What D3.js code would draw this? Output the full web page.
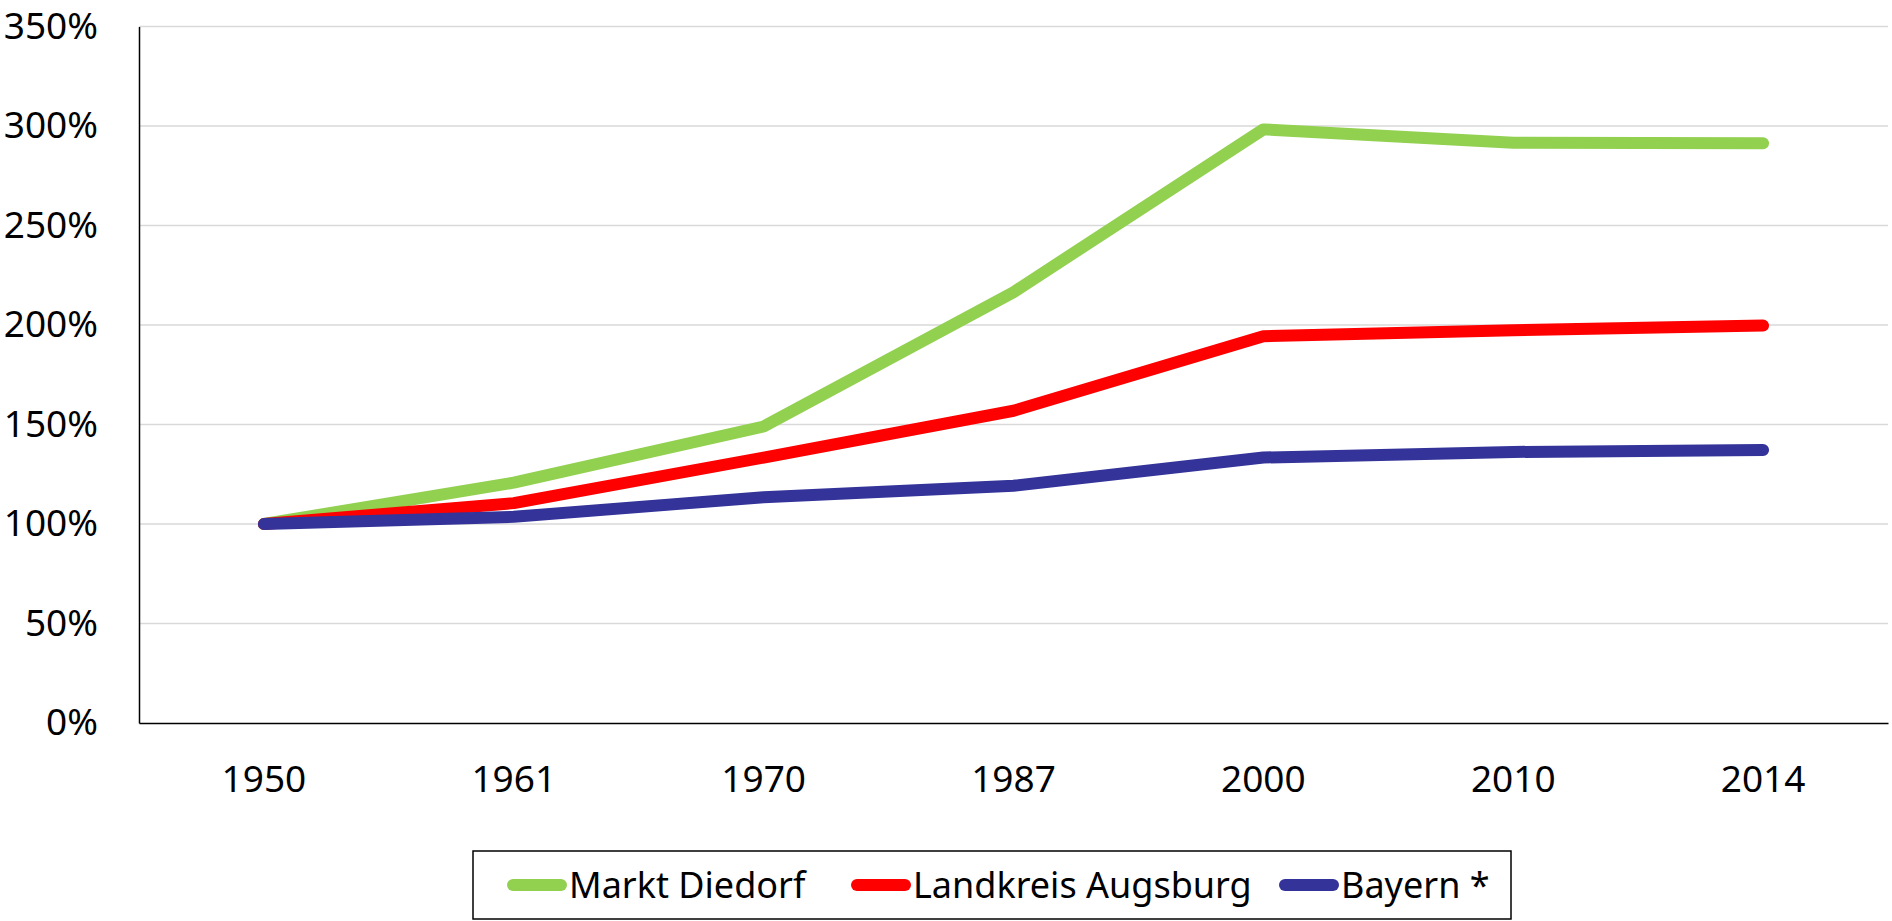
<!DOCTYPE html>
<html>
<head>
<meta charset="utf-8">
<script src="https://cdn.jsdelivr.net/npm/d3@7"></script>
<style>
  html, body { margin: 0; padding: 0; background: #fff; }
  svg { display: block; font-family: "Noto Sans", sans-serif; }
</style>
</head>
<body>
<div id="chart"></div>
<script>
// values (index 1950 = 100%)
const years = ["1950", "1961", "1970", "1987", "2000", "2010", "2014"];
const diedorf = [100, 120.8, 149, 216.5, 298.3, 291.6, 291.3];
const landkreis = [100, 110.5, 133.4, 156.9, 194.4, 197.4, 199.7];
const bayern = [100, 103.6, 113.5, 119.2, 133.4, 136.2, 137.2];
const yTicks = [0, 50, 100, 150, 200, 250, 300, 350];

const seriesNames = ["Markt Diedorf", "Landkreis Augsburg", "Bayern *"];
const seriesColors = ["#92D050", "#FF0000", "#333399"];

const series = [diedorf, landkreis, bayern].map((vals, i) => ({
    name: seriesNames[i],
    color: seriesColors[i],
    values: vals.map((v, j) => ({year: years[j], value: v}))
}));

const width = 1892;
const height = 921;
const plot = {left: 139, right: 1888, top: 26.5, bottom: 723};

const svg = d3.select("#chart")
    .append("svg")
    .attr("width", width)
    .attr("height", height);

const x = d3.scaleBand()
    .domain(years)
    .range([plot.left, plot.right]);

const y = d3.scaleLinear()
    .domain([0, 350])
    .range([plot.bottom, plot.top]);

// gridlines
svg.append("g")
    .selectAll("line")
    .data(yTicks.filter(t => t > 0))
    .join("line")
    .attr("x1", plot.left)
    .attr("x2", plot.right)
    .attr("y1", d => y(d))
    .attr("y2", d => y(d))
    .attr("stroke", "#d9d9d9")
    .attr("stroke-width", 1.5);

// y axis
const yAxis = svg.append("g")
    .attr("transform", `translate(${plot.left},0)`)
    .call(d3.axisLeft(y).tickValues(yTicks).tickFormat(d => d + "%").tickSize(0).tickPadding(41));
yAxis.select(".domain").attr("stroke", "#000").attr("stroke-width", 1.5);
yAxis.selectAll("text")
    .attr("font-size", 37)
    .attr("font-family", "Noto Sans")
    .attr("fill", "#000");

// x axis
const xAxis = svg.append("g")
    .attr("transform", `translate(0,${plot.bottom})`)
    .call(d3.axisBottom(x).tickSize(0).tickPadding(0));
xAxis.select(".domain").attr("stroke", "#000").attr("stroke-width", 1.5);
xAxis.selectAll("text")
    .attr("font-size", 37)
    .attr("font-family", "Noto Sans")
    .attr("fill", "#000")
    .attr("dy", null)
    .attr("y", 69);

// lines
const line = d3.line()
    .x(d => x(d.year) + x.bandwidth() / 2)
    .y(d => y(d.value));

svg.append("g")
    .selectAll("path")
    .data(series)
    .join("path")
    .attr("d", d => line(d.values))
    .attr("fill", "none")
    .attr("stroke", d => d.color)
    .attr("stroke-width", 12)
    .attr("stroke-linecap", "round")
    .attr("stroke-linejoin", "round");

// legend
const legend = svg.append("g");
legend.append("rect")
    .attr("x", 473)
    .attr("y", 851)
    .attr("width", 1038)
    .attr("height", 68)
    .attr("fill", "#fff")
    .attr("stroke", "#000")
    .attr("stroke-width", 1.5);

const legendX = [507, 851, 1279];
const ly = 885;
series.forEach((s, i) => {
    const lx = legendX[i];
    legend.append("line")
        .attr("x1", lx + 6)
        .attr("x2", lx + 54)
        .attr("y1", ly)
        .attr("y2", ly)
        .attr("stroke", s.color)
        .attr("stroke-width", 12)
        .attr("stroke-linecap", "round");
    legend.append("text")
        .attr("x", lx + 62)
        .attr("y", ly)
        .attr("dy", "0.36em")
        .attr("font-size", 36)
        .attr("fill", "#000")
        .text(s.name);
});
</script>
</body>
</html>
